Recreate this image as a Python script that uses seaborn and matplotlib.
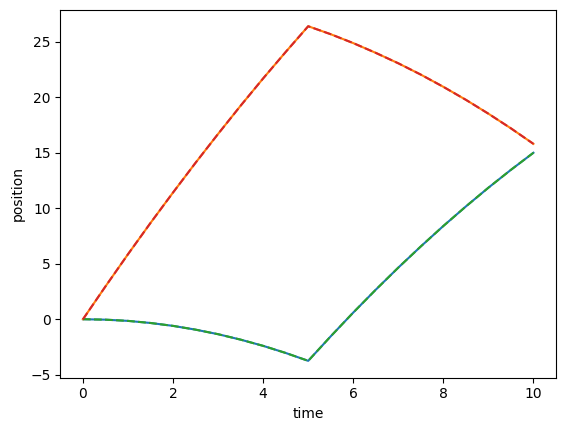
import numpy as np
import matplotlib
matplotlib.use("Agg")
import matplotlib.pyplot as plt
import seaborn as sns

# values, time step 0.5
time = [0.0, 0.5, 1.0, 1.5, 2.0, 2.5, 3.0, 3.5, 4.0, 4.5, 5.0,
        5.5, 6.0, 6.5, 7.0, 7.5, 8.0, 8.5, 9.0, 9.5, 10.0]

pos_upper = [0.0, 2.96, 5.86, 8.68, 11.42, 14.1, 16.7, 19.24, 21.7, 24.08, 26.4,
             25.68, 24.88, 24.0, 23.06, 22.04, 20.94, 19.77, 18.52, 17.2, 15.8]

pos_lower = [0.0, -0.04, -0.15, -0.34, -0.6, -0.94, -1.35, -1.84, -2.4, -3.04, -3.75,
             -1.54, 0.6, 2.66, 4.65, 6.56, 8.4, 10.16, 11.85, 13.46, 15.0]

fig, ax = plt.subplots(figsize=(5.65, 4.32), dpi=100)
fig.subplots_adjust(left=0.107, right=0.984, top=0.978, bottom=0.126)

# solid curves first, dashed copies drawn on top
sns.lineplot(x=time, y=pos_lower, ax=ax, color="C0")
sns.lineplot(x=time, y=pos_upper, ax=ax, color="C1")
sns.lineplot(x=time, y=pos_lower, ax=ax, color="C2", linestyle="--")
sns.lineplot(x=time, y=pos_upper, ax=ax, color="C3", linestyle="--")

ax.set_xlabel("time")
ax.set_ylabel("position")

fig.savefig("out.png", dpi=100)
